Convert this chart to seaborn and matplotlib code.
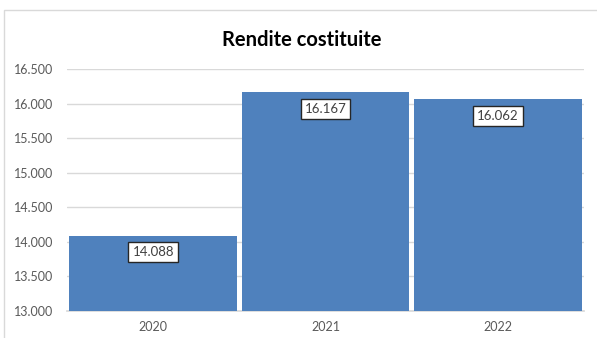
import matplotlib
matplotlib.use("Agg")
import matplotlib.pyplot as plt
import matplotlib.patches as mpatches
from matplotlib.ticker import FuncFormatter, MultipleLocator
import seaborn as sns
import pandas as pd

years = ["2020", "2021", "2022"]
rendite = [14088, 16167, 16062]
title = "Rendite costituite"

sns.set_theme(style="white")
plt.rcParams["font.family"] = ["Lato", "DejaVu Sans"]

W, H = 597, 338
fig = plt.figure(figsize=(W / 100, H / 100), dpi=100)
fig.patch.set_facecolor("white")

# outer chart frame
fig.patches.append(mpatches.Rectangle((4 / W, -0.1), 1.0, (H - 10) / H + 0.1,
                                      transform=fig.transFigure, fill=False,
                                      edgecolor="#D9D9D9", linewidth=1.0))

left, right, top, bottom = 67, 584, 69, 311
ax = fig.add_axes([left / W, (H - bottom) / H, (right - left) / W, (bottom - top) / H])

df = pd.DataFrame({"anno": years, "rendite": rendite})
sns.barplot(data=df, x="anno", y="rendite", ax=ax, color="#4F81BD",
            saturation=1, width=0.972, edgecolor="none", zorder=3)

ax.set_ylim(13000, 16500)
ax.yaxis.set_major_locator(MultipleLocator(500))
ax.yaxis.set_major_formatter(FuncFormatter(lambda v, p: f"{int(v):,}".replace(",", ".")))
ax.grid(axis="y", color="#D9D9D9", linewidth=1.0, zorder=0)
ax.set_axisbelow(True)
for s in ["top", "right", "left"]:
    ax.spines[s].set_visible(False)
ax.spines["bottom"].set_color("#D9D9D9")
ax.set_xlabel("")
ax.set_ylabel("")
ax.tick_params(axis="y", length=0, pad=10, labelsize=9, labelcolor="#595959")
ax.tick_params(axis="x", length=0, pad=7, labelsize=9, labelcolor="#595959")

for i, v in enumerate(rendite):
    ax.annotate(f"{v:,}".replace(",", "."), xy=(i, v), xytext=(0, -12),
                textcoords="offset points", ha="center", va="center",
                fontsize=9.5, color="#404040", zorder=5,
                bbox=dict(boxstyle="square,pad=0.3", facecolor="white",
                          edgecolor="#262626", linewidth=1.0))

fig.text(0.505, 1 - 40 / H, title, ha="center", va="center",
         fontsize=14.5, fontweight="bold", color="black")

fig.savefig("out.png", dpi=100)
